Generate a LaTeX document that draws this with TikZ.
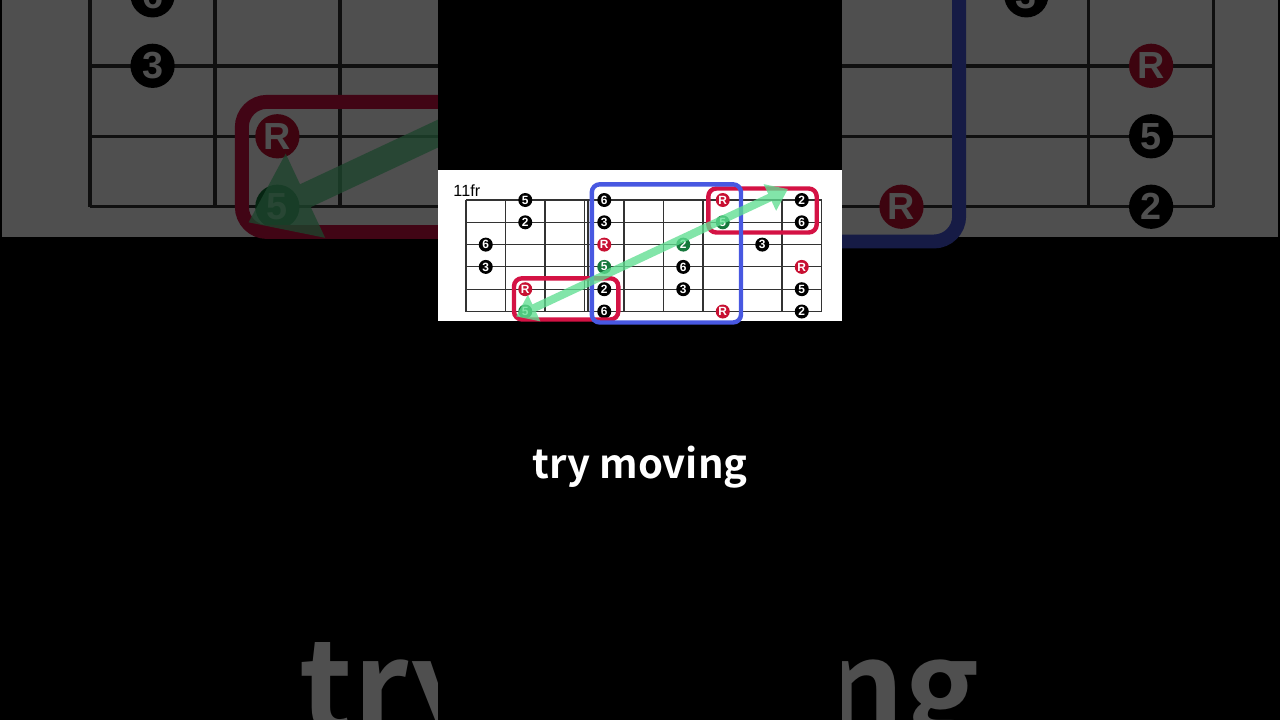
\documentclass[tikz,border=0pt]{standalone}
\usepackage{fontspec}
\usetikzlibrary{arrows.meta}
\setmainfont{Liberation Sans}
\newfontfamily\capfont[BoldFont={Noto Sans CJK JP Bold}]{Noto Sans CJK JP}

\definecolor{rootred}{RGB}{200,16,50}
\definecolor{fifgreen}{RGB}{22,120,60}
\definecolor{boxred}{RGB}{212,18,68}
\definecolor{boxblue}{RGB}{72,88,225}
\definecolor{arrgreen}{RGB}{95,222,145}

\tikzset{
  note/.style={circle, fill=black, text=white, inner sep=0pt, minimum size=7mm,
    font=\bfseries\fontsize{17}{17}\selectfont},
  rootnote/.style={note, fill=rootred},
  fifnote/.style={note, fill=fifgreen},
  fret/.style={line width=0.55mm, black!80},
  shapebox/.style={line width=2.2mm, rounded corners=4mm},
}

% one frame of the chart, in pixel coordinates
\newcommand{\fretboard}{%
    % Draw the chart card
    \fill[white] (438,170) rectangle (842,321);
    \node[anchor=base west, font=\fontsize{23}{23}\selectfont] (fr) at (451,196) {11fr};

    % Draw the strings and frets
    \foreach \s in {0,...,5}
        \draw[fret] (466,{200+22.3*\s}) -- (821.5,{200+22.3*\s});
    \foreach \f in {0,...,9}
        \draw[fret] ({466+39.5*\f},200) -- ({466+39.5*\f},311.5);
    \draw[fret] (588,200) -- (588,311.5);

    % Notes: cell/string/degree/style
    \foreach \c/\s/\t/\k in {2/1/5/note, 4/1/6/note, 7/1/R/rootnote, 9/1/2/note,
        2/2/2/note, 4/2/3/note, 7/2/5/fifnote, 9/2/6/note,
        1/3/6/note, 4/3/R/rootnote, 6/3/2/fifnote, 8/3/3/note,
        1/4/3/note, 4/4/5/fifnote, 6/4/6/note, 9/4/R/rootnote,
        2/5/R/rootnote, 4/5/2/note, 6/5/3/note, 9/5/5/note,
        2/6/5/fifnote, 4/6/6/note, 7/6/R/rootnote, 9/6/2/note}
        \node[\k] (n\c\s) at ({466+39.5*(\c-0.5)},{200+22.3*(\s-1)}) {\t};

    % Draw the boxes
    \draw[shapebox, boxred] (514,278.3) rectangle (618.3,319.5);
    \draw[shapebox, boxred] (708.3,188.5) rectangle (816.7,232.5);
    \draw[shapebox, boxblue] (591.8,184.3) rectangle (741,322.5);

    % Move arrow
    \coordinate (tipL) at (516,316.5);
    \coordinate (tipR) at (788,189);
    \begin{scope}[transparency group, opacity=0.78]
        \draw[arrgreen, line width=4mm,
            {Triangle[length=10mm,width=14mm]}-{Triangle[length=10mm,width=14mm]}] (tipL) -- (tipR);
    \end{scope}

    % Caption
    \node[anchor=base, text=white, font=\capfont\bfseries\fontsize{57}{57}\selectfont] (cap) at (640,478) {try moving};
}

\begin{document}
\begin{tikzpicture}[x=0.5mm, y=-0.5mm]
    \useasboundingbox (0,0) rectangle (1280,720);

    % Draw the backdrop
    \fill[black] (0,0) rectangle (1280,720);

    % Enlarged copy behind the frame
    \begin{scope}[transform canvas={shift={(-1382.4,-777.6)}, scale=3.16}]
        \fretboard
    \end{scope}
    \fill[black, opacity=0.69] (0,0) rectangle (1280,720);

    % Draw the frame
    \fill[black] (438,0) rectangle (842,720);
    \fretboard
\end{tikzpicture}
\end{document}
